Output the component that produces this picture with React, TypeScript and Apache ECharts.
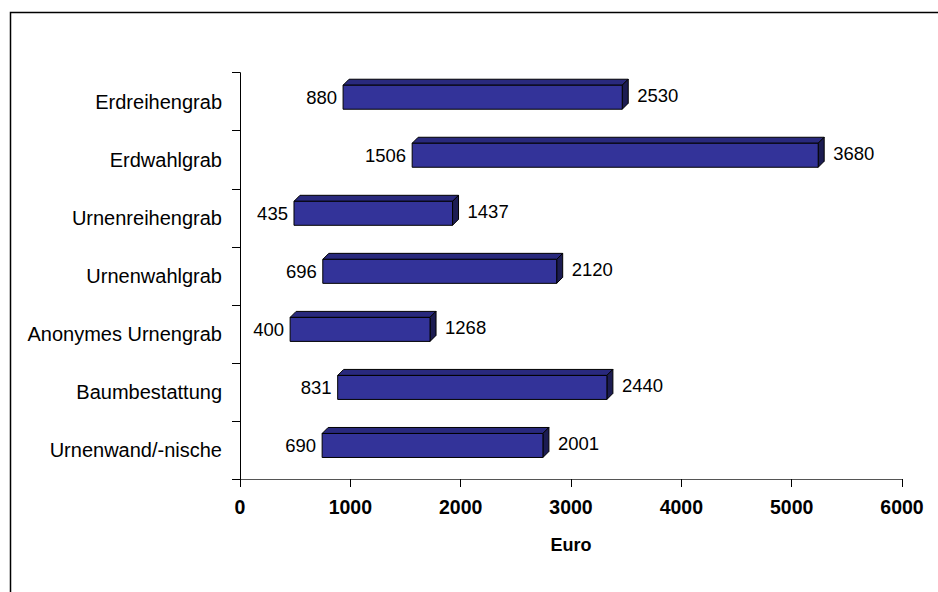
import React, { useEffect, useRef } from "react";
import * as echarts from "echarts";

const categories = [
  "Erdreihengrab",
  "Erdwahlgrab",
  "Urnenreihengrab",
  "Urnenwahlgrab",
  "Anonymes Urnengrab",
  "Baumbestattung",
  "Urnenwand/-nische",
];
const lows = [880, 1506, 435, 696, 400, 831, 690];
const spans = [2530, 3680, 1437, 2120, 1268, 2440, 2001];
const xTicks = { min: 0, max: 6000, interval: 1000 };
const xName = "Euro";

const FONT = "'Liberation Sans', Arial, Helvetica, sans-serif";

export default function App() {
  const ref = useRef<HTMLDivElement>(null);

  useEffect(() => {
    if (!ref.current) return;
    const chart = echarts.init(ref.current, undefined, { renderer: "svg" });
    const data = lows.map((v, i) => [i, v, spans[i]]);

    const renderItem = (params: any, api: any) => {
      const cat = api.value(0);
      const lo = api.value(1);
      const len = api.value(2);
      const a = api.coord([lo, cat]);
      const b = api.coord([lo + len, cat]);
      const cy = a[1];
      const off = 6;
      const d = 6;
      const x0 = a[0] + off;
      const x1 = b[0] + off;
      const yT = cy - 16.5;
      const yB = cy + 7.5;
      const edge = { stroke: "#000", lineWidth: 1 };
      return {
        type: "group",
        children: [
          {
            type: "polygon",
            shape: { points: [[x0, yT], [x0 + d, yT - d], [x1 + d, yT - d], [x1, yT]] },
            style: { fill: "#29297d", ...edge },
          },
          {
            type: "polygon",
            shape: { points: [[x1, yT], [x1 + d, yT - d], [x1 + d, yB - d], [x1, yB]] },
            style: { fill: "#1c1c52", ...edge },
          },
          {
            type: "rect",
            shape: { x: x0, y: yT, width: x1 - x0, height: yB - yT },
            style: { fill: "#333399", ...edge },
          },
          {
            type: "text",
            style: {
              text: String(lo),
              x: x0 - 6,
              y: (yT + yB) / 2,
              align: "right",
              verticalAlign: "middle",
              fontSize: 18.5,
              fontFamily: FONT,
              fill: "#000",
            },
          },
          {
            type: "text",
            style: {
              text: String(len),
              x: x1 + d + 9,
              y: (yT + yB) / 2 - 2,
              align: "left",
              verticalAlign: "middle",
              fontSize: 18.5,
              fontFamily: FONT,
              fill: "#000",
            },
          },
        ],
      };
    };

    chart.setOption({
      animation: false,
      backgroundColor: "#fff",
      graphic: [
        {
          type: "rect",
          left: 8,
          top: 10,
          shape: { x: 0, y: 0, width: 1200, height: 1200 },
          style: { fill: "none", stroke: "#000", lineWidth: 1.5 },
          silent: true,
        },
      ],
      grid: { left: 240, right: 36, top: 72.7, bottom: 113, containLabel: false },
      xAxis: {
        type: "value",
        min: xTicks.min,
        max: xTicks.max,
        interval: xTicks.interval,
        name: xName,
        nameLocation: "middle",
        nameGap: 57,
        nameTextStyle: { fontSize: 18, fontWeight: "bold", fontFamily: FONT, color: "#000", verticalAlign: "top" },
        axisLine: { show: true, lineStyle: { color: "#555", width: 1 } },
        axisTick: { show: true, inside: false, length: 8, lineStyle: { color: "#000" } },
        splitLine: { show: false },
        axisLabel: {
          fontSize: 19.5,
          fontWeight: "bold",
          fontFamily: FONT,
          color: "#000",
          margin: 18,
          formatter: (v: number) => String(v),
        },
      },
      yAxis: {
        type: "category",
        data: categories,
        inverse: true,
        boundaryGap: true,
        axisLine: { show: true, onZero: false, lineStyle: { color: "#000", width: 1 } },
        axisTick: { show: true, inside: false, length: 8, lineStyle: { color: "#000" } },
        splitLine: { show: false },
        axisLabel: { fontSize: 20, fontFamily: FONT, color: "#000", margin: 18 },
      },
      series: [
        {
          type: "custom",
          renderItem,
          data,
          encode: { x: [1, 2], y: 0 },
          clip: false,
        },
      ],
    });

    return () => chart.dispose();
  }, []);

  return (
    <div
      ref={ref}
      style={{ position: "fixed", left: 0, top: 0, width: 938, height: 592, background: "#fff" }}
    />
  );
}
